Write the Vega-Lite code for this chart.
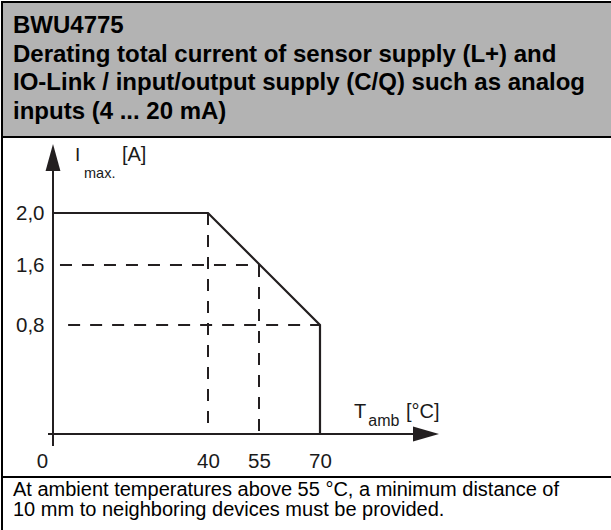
{
  "$schema": "https://vega.github.io/schema/vega-lite/v6.json",
  "padding": {"left": 1, "top": 1, "right": 0, "bottom": 0},
  "background": "white",
  "spacing": 0,
  "bounds": "flush",
  "config": {
    "view": {"stroke": null},
    "font": "Liberation Sans",
    "axis": {"domain": false, "ticks": false, "grid": false, "labelFont": "Liberation Sans", "labelFontSize": 20.5, "labelColor": "#1a1a1a", "labelPadding": 0}
  },
  "datasets": {
    "title": [
      {"line": 1, "text": "BWU4775"},
      {"line": 2, "text": "Derating total current of sensor supply (L+) and"},
      {"line": 3, "text": "IO-Link / input/output supply (C/Q) such as analog"},
      {"line": 4, "text": "inputs (4 ... 20 mA)"}
    ],
    "note": [
      {"line": 1, "text": "At ambient temperatures above 55 °C, a minimum distance of"},
      {"line": 2, "text": "10 mm to neighboring devices must be provided."}
    ],
    "segments": [
      {"x": -1, "x2": 95, "y": 0, "y2": 0, "style": "solid"},
      {"x": 0, "x2": 0, "y": -0.2, "y2": 2.5, "style": "solid"},
      {"x": 1.8, "x2": 55, "y": 1.6, "y2": 1.6, "style": "dashed"},
      {"x": 3.9, "x2": 70, "y": 0.8, "y2": 0.8, "style": "dashed"},
      {"x": 40, "x2": 40, "y": 2.0, "y2": 0, "style": "dashed"},
      {"x": 55, "x2": 55, "y": 1.6, "y2": 0, "style": "dashed"}
    ],
    "derating": [
      {"t": 0, "i": 2.0, "ord": 1},
      {"t": 40, "i": 2.0, "ord": 2},
      {"t": 70, "i": 0.8, "ord": 3},
      {"t": 70, "i": 0, "ord": 4}
    ]
  },
  "vconcat": [
    {
      "width": 610,
      "height": 135,
      "view": {"fill": "#b3b3b3", "stroke": "#000", "strokeWidth": 2, "strokeDash": [610, 135, 745]},
      "data": {"name": "title"},
      "mark": {"type": "text", "align": "left", "baseline": "alphabetic", "font": "Liberation Sans", "fontWeight": "bold", "fontSize": 24, "color": "#000"},
      "encoding": {
        "x": {"datum": 0, "type": "quantitative", "scale": {"domain": [0, 1], "range": [11, 610]}, "axis": null},
        "y": {"field": "line", "type": "quantitative", "scale": {"domain": [1, 4], "range": [31, 117], "nice": false, "zero": false}, "axis": null},
        "text": {"field": "text", "type": "nominal"}
      }
    },
    {
      "width": 610,
      "height": 340,
      "view": {"stroke": "#000", "strokeWidth": 2, "strokeDash": [610, 340, 950]},
      "data": {"values": [{}]},
      "layer": [
        {
          "data": {"name": "segments"},
          "mark": {"type": "rule", "strokeWidth": 2, "color": "#231f20"},
          "encoding": {
            "x": {"field": "x", "type": "quantitative",
                  "scale": {"domain": [-10, 0, 40, 55, 70, 95, 100], "range": [1, 51, 206, 257, 318, 424, 437], "nice": false, "zero": false},
                  "axis": {"title": null, "values": [0, 40, 55, 70], "offset": -16, "labelBaseline": "middle", "labelAlign": "center",
                           "labelOffset": {"condition": {"test": "datum.value === 0", "value": -11}, "value": 0}}},
            "x2": {"field": "x2"},
            "y": {"field": "y", "type": "quantitative",
                  "scale": {"domain": [-0.2, 0, 0.8, 1.6, 2.0, 2.5, 2.7], "range": [309, 297, 188, 128, 76, 20.5, 7], "nice": false, "zero": false},
                  "axis": {"title": null, "values": [0.8, 1.6, 2.0], "offset": -42, "labelAlign": "right", "labelBaseline": "middle",
                           "labelExpr": "replace(format(datum.value, '.1f'), '.', ',')"}},
            "y2": {"field": "y2"},
            "strokeDash": {"field": "style", "type": "nominal", "scale": {"domain": ["solid", "dashed"], "range": [[1, 0], [12, 10]]}, "legend": null}
          }
        },
        {
          "data": {"name": "derating"},
          "mark": {"type": "line", "strokeWidth": 2.2, "color": "#231f20", "strokeJoin": "miter"},
          "encoding": {
            "x": {"field": "t", "type": "quantitative"},
            "y": {"field": "i", "type": "quantitative"},
            "order": {"field": "ord", "type": "quantitative"}
          }
        },
        {
          "mark": {"type": "point", "filled": true, "color": "#231f20", "opacity": 1, "strokeWidth": 0, "size": 676, "shape": "M1,0L-1,-0.58L-1,0.58Z"},
          "encoding": {
            "x": {"datum": 95, "type": "quantitative"},
            "y": {"datum": 0, "type": "quantitative"}
          }
        },
        {
          "mark": {"type": "point", "filled": true, "color": "#231f20", "opacity": 1, "strokeWidth": 0, "size": 729, "shape": "M0,-1L0.55,1L-0.55,1Z"},
          "encoding": {
            "x": {"datum": 0, "type": "quantitative"},
            "y": {"datum": 2.5, "type": "quantitative"}
          }
        },
        {
          "mark": {"type": "text", "align": "left", "baseline": "alphabetic", "fontSize": 19, "color": "#1a1a1a", "text": "I"},
          "encoding": {"x": {"datum": 5.68, "type": "quantitative"}, "y": {"datum": 2.468, "type": "quantitative"}}
        },
        {
          "mark": {"type": "text", "align": "left", "baseline": "alphabetic", "fontSize": 14.5, "color": "#1a1a1a", "text": "max."},
          "encoding": {"x": {"datum": 8.0, "type": "quantitative"}, "y": {"datum": 2.315, "type": "quantitative"}}
        },
        {
          "mark": {"type": "text", "align": "left", "baseline": "alphabetic", "fontSize": 20, "color": "#1a1a1a", "text": "[A]"},
          "encoding": {"x": {"datum": 17.8, "type": "quantitative"}, "y": {"datum": 2.468, "type": "quantitative"}}
        },
        {
          "mark": {"type": "text", "align": "left", "baseline": "alphabetic", "fontSize": 20, "color": "#1a1a1a", "text": "T"},
          "encoding": {"x": {"datum": 78.0, "type": "quantitative"}, "y": {"datum": 0.117, "type": "quantitative"}}
        },
        {
          "mark": {"type": "text", "align": "left", "baseline": "alphabetic", "fontSize": 16, "color": "#1a1a1a", "text": "amb"},
          "encoding": {"x": {"datum": 81.4, "type": "quantitative"}, "y": {"datum": 0.0587, "type": "quantitative"}}
        },
        {
          "mark": {"type": "text", "align": "left", "baseline": "alphabetic", "fontSize": 20, "color": "#1a1a1a", "text": "[°C]"},
          "encoding": {"x": {"datum": 90.28, "type": "quantitative"}, "y": {"datum": 0.117, "type": "quantitative"}}
        }
      ]
    },
    {
      "width": 610,
      "height": 54,
      "view": {"stroke": "#000", "strokeWidth": 2, "strokeDash": [610, 664, 54]},
      "data": {"name": "note"},
      "mark": {"type": "text", "align": "left", "baseline": "alphabetic", "font": "Liberation Sans", "fontSize": 20, "color": "#000"},
      "encoding": {
        "x": {"datum": 0, "type": "quantitative", "scale": {"domain": [0, 1], "range": [11, 610]}, "axis": null},
        "y": {"field": "line", "type": "quantitative", "scale": {"domain": [1, 2], "range": [19, 39], "nice": false, "zero": false}, "axis": null},
        "text": {"field": "text", "type": "nominal"}
      }
    }
  ]
}
